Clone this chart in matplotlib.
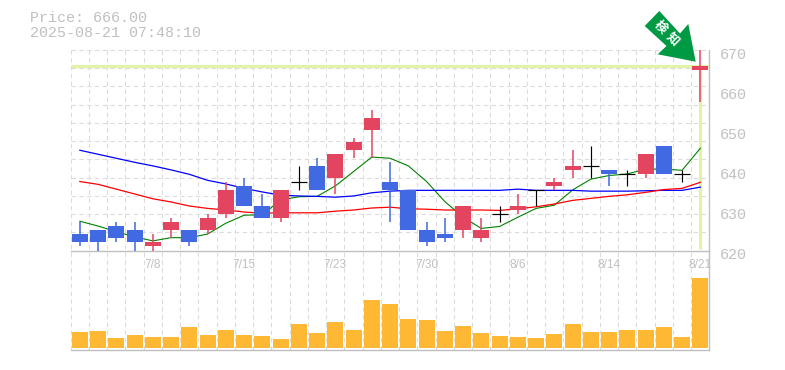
import matplotlib
matplotlib.use('Agg')
import matplotlib.pyplot as plt
from matplotlib.patches import Polygon
from matplotlib.transforms import ScaledTranslation

plt.rcParams['font.family'] = ['Liberation Mono', 'Noto Sans CJK JP', 'DejaVu Sans']

W, H = 785, 370
dpi = 100

# ohlc
opens = [624, 625, 626, 625, 621, 625, 625, 625, 629, 636, 631, 628, 637, 641, 638, 645, 650,
         637, 635, 625, 624, 625, 623, 629, 630, 635, 636, 640, 641, 640, 639, 639, 646, 639, 665]
highs = [627, 625, 627, 627, 624, 628, 625, 629, 637, 638, 634, 635, 641, 643, 644, 648, 655,
         642, 635, 627, 628, 631, 628, 631, 634, 635, 638, 645, 646, 640, 640, 644, 646, 640, 670]
lows = [621, 620, 622, 620, 620, 623, 621, 624, 628, 631, 628, 627, 635, 635, 634, 643, 643,
        627, 625, 621, 622, 623, 622, 627, 629, 631, 635, 638, 638, 636, 636, 638, 639, 637, 657]
closes = [622, 622, 623, 622, 622, 627, 622, 628, 635, 631, 628, 635, 637, 635, 644, 647, 653,
          635, 625, 622, 623, 631, 625, 629, 631, 635, 637, 641, 641, 639, 639, 644, 639, 639, 666]
ma_green = [627.3, 626.1, 624.7, 623.4, 622.4, 623.2, 623.2, 624.1, 626.8, 628.8, 628.9, 632.6,
            633.4, 633.5, 636.1, 639.7, 643.3, 643.0, 641.1, 637.2, 632.2, 628.3, 625.5, 626.0,
            628.3, 630.5, 631.3, 635.1, 637.8, 638.7, 639.1, 640.3, 640.3, 640.0, 645.5]
ma_blue = [645.0, 644.0, 643.0, 642.0, 641.1, 640.1, 639.0, 637.5, 636.6, 635.5, 634.6, 633.8,
           633.6, 633.5, 633.3, 633.6, 634.4, 634.8, 635.0, 635.0, 635.0, 635.0, 635.0, 635.0,
           635.3, 635.0, 635.0, 635.0, 634.8, 634.8, 634.8, 634.9, 635.0, 635.0, 635.8]
ma_red = [637.2, 636.5, 635.3, 634.1, 632.9, 632.1, 631.1, 630.5, 630.1, 629.6, 629.3, 629.4,
          629.4, 629.4, 629.8, 630.1, 630.6, 630.8, 630.4, 630.3, 630.1, 630.1, 630.1, 630.0,
          630.4, 630.9, 631.6, 632.5, 633.0, 633.5, 633.9, 634.5, 635.2, 635.5, 637.0]
volume = [16, 17, 10, 13, 11, 11, 21, 13, 18, 13, 12, 9, 25, 15, 27, 18, 49,
          45, 30, 29, 17, 22, 15, 12, 11, 10, 14, 25, 16, 16, 18, 18, 21, 11, 71]
date_idx = [4, 9, 14, 19, 24, 29, 34]
date_labels = ['7/8', '7/15', '7/23', '7/30', '8/6', '8/14', '8/21']
price_ticks = [620, 630, 640, 650, 660, 670]
last_price = 666
title_lines = ['Price: 666.00', '2025-08-21 07:48:10']

RED = '#e34561'
BLUE = '#4169e1'
GRAY = '#c0c0c0'
GRID = '#dcdcdc'
PALE = '#e2f2a6'
x0, x1 = 70.7, 709.5
y_top, y_price, y_vol = 50.0, 250.5, 350.3


def make_axes(top, bottom):
    return fig.add_axes([x0 / W, 1 - bottom / H, (x1 - x0) / W, (bottom - top) / H])


fig = plt.figure(figsize=(W / dpi, H / dpi), dpi=dpi)

# one axes over both panels only for the vertical grid
bg = make_axes(y_top, y_vol)
bg.set_xlim(-0.5, 34.5)
bg.set_ylim(0, 1)
bg.axis('off')
for i in range(35):
    bg.axvline(i - 0.5, color=GRID, lw=0.8, ls=(0, (4, 3)))

ax = make_axes(y_top, y_price)
ax.patch.set_alpha(0)
ax.set_xlim(-0.5, 34.5)
ax.set_ylim(620, 670)
for s in ['top', 'left']:
    ax.spines[s].set_visible(False)
for s in ['right', 'bottom']:
    ax.spines[s].set_color(GRAY)
    ax.spines[s].set_linewidth(1.0)

# horizontal grid is 11 steps over the panel, not on the price ticks
for j in range(12):
    ax.axhline(620 + j * 50 / 11, color=GRID, lw=0.8, ls=(0, (4, 3)), zorder=0, clip_on=False)

ax.plot([-0.5, 34.5], [last_price, last_price], color=PALE, lw=2.3, zorder=1, solid_capstyle='butt')
ax.plot([34, 34], [620.4, last_price], color=PALE, lw=2.3, zorder=1, solid_capstyle='butt')

xs = list(range(35))
ax.plot(xs, ma_green, color='#008000', lw=0.8, zorder=2)
ax.plot(xs, ma_blue, color='#0000ff', lw=0.9, zorder=2)
ax.plot(xs, ma_red, color='#ff0000', lw=0.9, zorder=2)

bw = 16 / 18.25
for i in xs:
    o, h, l, c = opens[i], highs[i], lows[i], closes[i]
    if o == c:
        ax.plot([i, i], [l, h], color='black', lw=0.85, zorder=3, solid_capstyle='butt')
        ax.plot([i - bw / 2, i + bw / 2], [c, c], color='black', lw=0.85, zorder=3, solid_capstyle='butt')
        continue
    col = RED if c > o else BLUE
    ax.plot([i, i], [l, h], color=col, lw=1.1, zorder=3, solid_capstyle='butt')
    ax.bar(i, abs(c - o), bottom=min(o, c), width=bw, color=col, zorder=4, linewidth=0)

ax.set_xticks(date_idx)
ax.set_xticklabels(date_labels, family=['Liberation Sans'], fontsize=8.6, color=GRAY)
ax.set_yticks(price_ticks)
ax.set_yticklabels(price_ticks)
ax.yaxis.tick_right()
ax.tick_params(axis='x', length=0, pad=6)
ax.tick_params(axis='y', length=0, pad=7.5, labelsize=10.8, labelcolor=GRAY)
# price labels sit about 3px under their level in the reference
shift = ScaledTranslation(0, -3 / dpi, fig.dpi_scale_trans)
for t in ax.get_yticklabels():
    t.set_transform(t.get_transform() + shift)

axv = make_axes(y_price + 1, y_vol)
axv.patch.set_alpha(0)
axv.set_xlim(-0.5, 34.5)
axv.set_ylim(-2.3, 98.5)
axv.bar(xs, volume, width=bw, color='#ffb834', linewidth=0, zorder=3)
axv.set_xticks([])
axv.set_yticks([])
for s in ['top', 'left']:
    axv.spines[s].set_visible(False)
for s in ['right', 'bottom']:
    axv.spines[s].set_color(GRAY)
    axv.spines[s].set_linewidth(1.0)

# arrow marker, in pixel coords
arrow_px = [(659.3, 11), (680, 33.5), (688.3, 24), (695.7, 61.7), (657.7, 54.3), (666.5, 46), (644.7, 26)]
fig.add_artist(Polygon([(px / W, 1 - py / H) for px, py in arrow_px], closed=True,
                       transform=fig.transFigure, color='#009944', lw=0, zorder=6))
fig.text(660.5 / W, 1 - 27 / H, '検', color='white', fontsize=9, weight='bold', rotation=-45,
         ha='center', va='center', zorder=7)
fig.text(672 / W, 1 - 39.5 / H, '知', color='white', fontsize=9, weight='bold', rotation=-45,
         ha='center', va='center', zorder=7)

fig.text(30 / W, 1 - 18 / H, title_lines[0], color=GRAY, fontsize=10.8, va='center')
fig.text(30 / W, 1 - 33 / H, title_lines[1], color=GRAY, fontsize=10.8, va='center')

fig.savefig('out.png', dpi=dpi)
